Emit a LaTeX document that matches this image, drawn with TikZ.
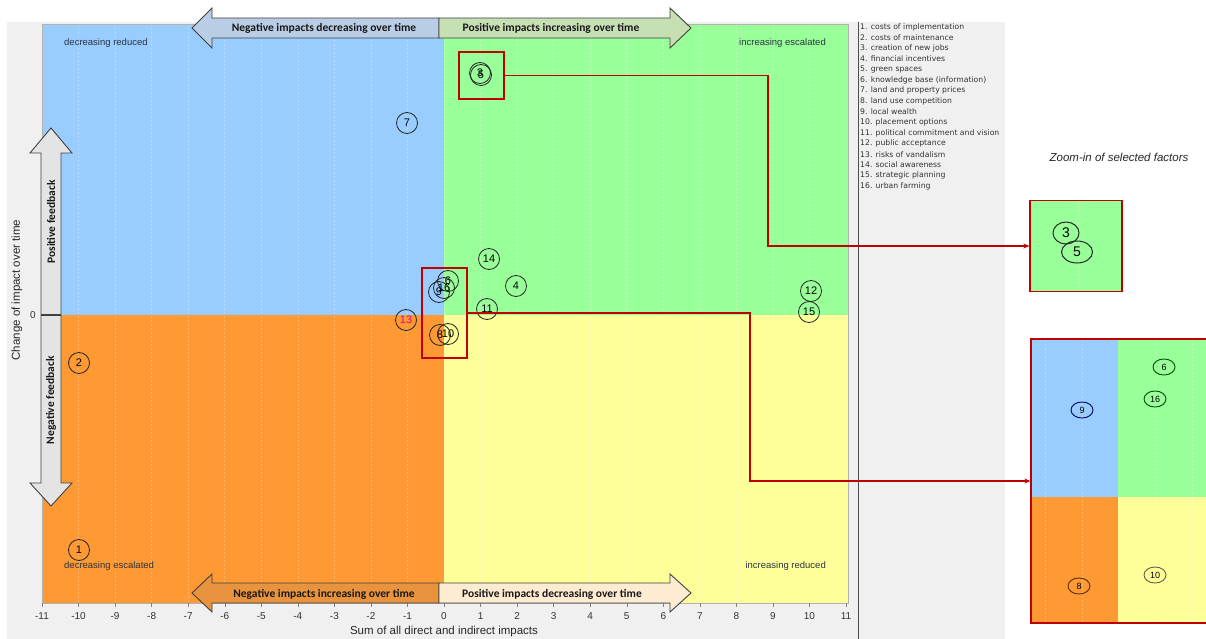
\documentclass[tikz,border=0pt]{standalone}
\usepackage{fontspec}
\setmainfont{Liberation Sans}
\newfontfamily\carl{Carlito}
\newfontfamily\legfont{DejaVu Sans}
\usetikzlibrary{arrows.meta,shapes.geometric}
\definecolor{qblue}{HTML}{99CCFF}
\definecolor{qgreen}{HTML}{99FF99}
\definecolor{qorange}{HTML}{FF9933}
\definecolor{qyellow}{HTML}{FFFF99}
\definecolor{panel}{HTML}{F0F0F0}
\definecolor{hiRed}{HTML}{C00000}
\definecolor{arrBlue}{HTML}{B9CDE5}
\definecolor{arrGreen}{HTML}{C6E0B4}
\definecolor{arrOrange}{HTML}{E8933E}
\definecolor{arrCream}{HTML}{FDEBD2}
\definecolor{arrGray}{HTML}{E4E4E4}
\definecolor{edge}{HTML}{404040}
\definecolor{lbl}{HTML}{2A3440}
\newcommand{\px}[1]{\fontsize{#1}{#1}\selectfont}
\begin{document}
\begin{tikzpicture}[x=1pt,y=-1pt,
  bigarrow/.style={draw=edge,line width=0.9pt,line join=miter},
  arrowtext/.style={font=\carl\bfseries\px{11.5},text=black!90,inner sep=0},
  quadlabel/.style={font=\px{9.5},text=lbl,inner sep=0},
  gridline/.style={white,opacity=0.3,line width=0.5pt,dash pattern=on 2pt off 2pt},
  dpt/.style={circle,draw=black!85,line width=0.8pt,minimum size=21pt,inner sep=0,font=\px{11}},
  zpt/.style={ellipse,line width=0.9pt,minimum width=22pt,minimum height=16pt,inner sep=0,font=\px{9}},
  redbox/.style={draw=hiRed,line width=1.3pt,minimum width=#1,inner sep=0},
  redline/.style={draw=hiRed,line width=1.4pt,-{Stealth[length=6pt,width=5pt]}},
  legend/.style={anchor=west,font=\legfont\px{7.7},text=black!80,inner sep=0},
  tick/.style={font=\px{10},text=black!80,inner sep=0}]
\useasboundingbox (0,0) rectangle (1206,639);
\fill[white] (0,0) rectangle (1206,639);
\fill[panel] (7,22) rectangle (1005,639);
\draw[black!70,line width=0.8pt] (858,22) -- (858,639);

% quadrants of the impact plot
\fill[qblue]   (42,24)  rectangle (444,315);
\fill[qgreen]  (444,24) rectangle (848,315);
\fill[qorange] (42,315) rectangle (444,603);
\fill[qyellow] (444,315) rectangle (848,603);
\foreach \i in {-10,...,10} \draw[gridline] ({444+36.545*\i},24) -- ++(0,579);
\draw[black!30,line width=0.5pt] (42,24) rectangle (848,603);

% x axis
\foreach \i in {-11,...,11} {
  \draw[black!50] ({444+36.545*\i},603) -- ++(0,4);
  \node[tick] at ({444+36.545*\i},616) {\i};
}
\node[font=\px{11.5},text=black!85] (xt) at (444,632) {Sum of all direct and indirect impacts};

% y axis
\node[tick] (y0) at (33,315) {0};
\node[rotate=90,font=\px{11.5},text=black!85] (yt) at (17,290) {Change of impact over time};

% feedback arrow
\filldraw[bigarrow,fill=arrGray] (51,128) -- (72,153) -- (61,153) -- (61,483) -- (72,483) -- (51,506)
  -- (30,483) -- (41,483) -- (41,153) -- (30,153) -- cycle;
\draw[edge,line width=1.2pt] (41,315) -- (61,315);
\node[rotate=90,arrowtext] (pf) at (51,222) {Positive feedback};
\node[rotate=90,arrowtext] (nf) at (51,400) {Negative feedback};

% top arrow
\filldraw[bigarrow,fill=arrBlue] (192,28) -- (212,8) -- (212,18) -- (439,18) -- (439,38) -- (212,38) -- (212,48) -- cycle;
\filldraw[bigarrow,fill=arrGreen] (439,18) -- (670,18) -- (670,8) -- (691,28) -- (670,48) -- (670,38) -- (439,38) -- cycle;
\node[arrowtext] (tl) at (324,28) {Negative impacts decreasing over time};
\node[arrowtext] (tr) at (551,28) {Positive impacts increasing over time};

% bottom arrow
\filldraw[bigarrow,fill=arrOrange] (192,593) -- (212,574) -- (212,583) -- (439,583) -- (439,603) -- (212,603) -- (212,612) -- cycle;
\filldraw[bigarrow,fill=arrCream] (439,583) -- (670,583) -- (670,574) -- (691,593) -- (670,612) -- (670,603) -- (439,603) -- cycle;
\node[arrowtext] (bl) at (324,594) {Negative impacts increasing over time};
\node[arrowtext] (br) at (552,594) {Positive impacts decreasing over time};

% quadrant captions
\node[quadlabel,anchor=west] (q1) at (64,43) {decreasing reduced};
\node[quadlabel,anchor=east] (q2) at (826,43) {increasing escalated};
\node[quadlabel,anchor=west] (q3) at (64,566) {decreasing escalated};
\node[quadlabel,anchor=east] (q4) at (826,566) {increasing reduced};

% factors
\node[dpt] (f1)  at (79,550)  {1};
\node[dpt] (f2)  at (79,363)  {2};
\node[dpt] (f7)  at (407,123) {7};
\node[dpt] (f3)  at (480,73)  {3};
\node[dpt] (f5)  at (481,75)  {5};
\node[dpt] (f14) at (489,259) {14};
\node[dpt] (f4)  at (516,286) {4};
\node[dpt] (f11) at (487,309) {11};
\node[dpt] (f12) at (811,291) {12};
\node[dpt] (f15) at (809,312) {15};
\node[dpt,text=magenta!80!red] (f13) at (406,320) {13};
\node[dpt] (f6)  at (448,281) {6};
\node[dpt] (f16) at (444,288) {16};
\node[dpt] (f9)  at (439,292) {9};
\node[dpt] (f8)  at (440,335) {8};
\node[dpt] (f10) at (448,334) {10};

% highlight boxes
\node[redbox=45pt,minimum height=47pt] (b1) at (481.5,75.5) {};
\node[redbox=45pt,minimum height=90pt] (b2) at (444.5,313) {};

% zoom panel for factors 3 and 5
\node[font=\itshape\px{11.5},text=black!85] (zt) at (1119,157) {Zoom-in of selected factors};
\node[redbox=92pt,minimum height=91pt,fill=qgreen] (z1) at (1076,246) {};
\draw[gridline] (1078,202) -- (1078,290);
\node[zpt,draw=black!85,line width=1pt,minimum width=26pt,minimum height=22pt,font=\px{14}] (z3) at (1066,233) {3};
\node[zpt,draw=black!85,line width=1pt,minimum width=31pt,minimum height=22pt,font=\px{14}] (z5) at (1077,252) {5};

% zoom panel for the central cluster
\fill[qblue]   (1031,339) rectangle (1118,497);
\fill[qgreen]  (1118,339) rectangle (1210,497);
\fill[qorange] (1031,497) rectangle (1118,623);
\fill[qyellow] (1118,497) rectangle (1210,623);
\foreach \gx in {1045,1082,1155,1192} \draw[gridline] (\gx,340) -- (\gx,622);
\node[redbox=180pt,minimum height=284pt] (z2) at (1121,481) {};
\node[zpt,draw=blue!45!black] (z9)  at (1082,410) {9};
\node[zpt,draw=green!30!black] (z6)  at (1164,367) {6};
\node[zpt,draw=green!30!black] (z16) at (1155,399) {16};
\node[zpt,draw=orange!35!black] (z8)  at (1079,586) {8};
\node[zpt,draw=yellow!30!black] (z10) at (1155,575) {10};

% connectors to the zoom panels
\coordinate (k1) at (768,0);
\coordinate (k2) at (750,0);
\draw[redline] (b1.east) -- (b1.east -| k1) |- (z1.west);
\draw[redline] (b2.east) -- (b2.east -| k2) |- (z2.west);

% factor list
\foreach \n/\t in {1/costs of implementation,2/costs of maintenance,3/creation of new jobs,
  4/financial incentives,5/green spaces,6/knowledge base (information),7/land and property prices,
  8/land use competition,9/local wealth,10/placement options,11/political commitment and vision,
  12/public acceptance,13/risks of vandalism,14/social awareness,15/strategic planning,16/urban farming}
  \node[legend] (l\n) at (860,{27+10.6*(\n-1)}) {\n. \t};
\end{tikzpicture}
\end{document}
